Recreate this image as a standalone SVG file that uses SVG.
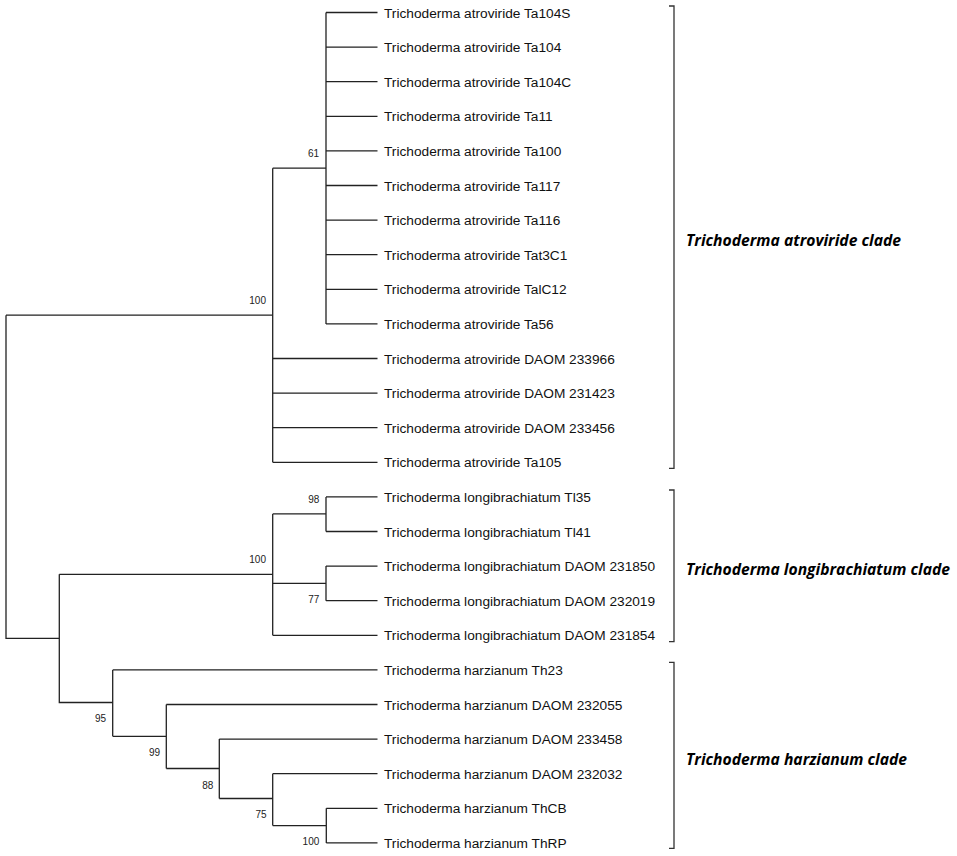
<svg xmlns="http://www.w3.org/2000/svg" width="957" height="856" viewBox="0 0 957 856">
<style>
.c{fill:none;stroke:#222;stroke-width:1.3}
.l{font-family:"Liberation Sans",Arial,sans-serif;font-size:13.7px;fill:#111}
.b{font-family:"Liberation Sans",Arial,sans-serif;font-size:10px;fill:#222;text-anchor:end}
.k{font-family:"Open Sans","DejaVu Sans",sans-serif;font-size:16px;font-weight:bold;font-style:italic;fill:#000}
.br{fill:none;stroke:#333;stroke-width:1.3}
</style>
<rect width="957" height="856" fill="#fff"/>
<g id="connectors">
<path class="c" d="M6,315.2V638.3H59.3M6,315.2H272.7M59.3,574.3V702.5H112.7M59.3,574.3H272.7"/>
<path class="c" d="M272.7,168.2V462.3M272.7,168.2H326M326,12.5V323.9"/>
<path class="c" d="M326,12.5H377.5M326,47.1H377.5M326,81.7H377.5M326,116.3H377.5M326,150.9H377.5M326,185.5H377.5M326,220.1H377.5M326,254.7H377.5M326,289.3H377.5M326,323.9H377.5"/>
<path class="c" d="M272.7,358.5H377.5M272.7,393.1H377.5M272.7,427.7H377.5M272.7,462.3H377.5"/>
<path class="c" d="M272.7,513.9V635.3M272.7,513.9H326M326,496.9V531.5M326,496.9H377.5M326,531.5H377.5M272.7,583.4H326M326,566.1V600.7M326,566.1H377.5M326,600.7H377.5M272.7,635.3H377.5"/>
<path class="c" d="M112.7,669.9V736.3M112.7,669.9H377.5M112.7,736.3H166.3M166.3,704.5V768.5M166.3,704.5H377.5M166.3,768.5H219.3M219.3,739.1V798.5M219.3,739.1H377.5M219.3,798.5H272.7M272.7,773.7V825.6M272.7,773.7H377.5M272.7,825.6H326.3M326.3,808.3V842.9M326.3,808.3H377.5M326.3,842.9H377.5"/>
</g>
<g id="bootstrap">
<text class="b" x="319" y="157">61</text>
<text class="b" x="266" y="303.6">100</text>
<text class="b" x="319.3" y="503">98</text>
<text class="b" x="266" y="563.3">100</text>
<text class="b" x="319.3" y="603">77</text>
<text class="b" x="106" y="721.6">95</text>
<text class="b" x="160" y="755.6">99</text>
<text class="b" x="213.3" y="789.3">88</text>
<text class="b" x="266.7" y="818.3">75</text>
<text class="b" x="319.3" y="845.3">100</text>
</g>
<g id="leaves">
<g id="n1"><text class="l" x="384" y="17.5">Trichoderma atroviride Ta104S</text></g>
<g id="n2"><text class="l" x="384" y="52.1">Trichoderma atroviride Ta104</text></g>
<g id="n3"><text class="l" x="384" y="86.7">Trichoderma atroviride Ta104C</text></g>
<g id="n4"><text class="l" x="384" y="121.3">Trichoderma atroviride Ta11</text></g>
<g id="n5"><text class="l" x="384" y="155.9">Trichoderma atroviride Ta100</text></g>
<g id="n6"><text class="l" x="384" y="190.5">Trichoderma atroviride Ta117</text></g>
<g id="n7"><text class="l" x="384" y="225.1">Trichoderma atroviride Ta116</text></g>
<g id="n8"><text class="l" x="384" y="259.7">Trichoderma atroviride Tat3C1</text></g>
<g id="n9"><text class="l" x="384" y="294.3">Trichoderma atroviride TalC12</text></g>
<g id="n10"><text class="l" x="384" y="328.9">Trichoderma atroviride Ta56</text></g>
<g id="n11"><text class="l" x="384" y="363.5">Trichoderma atroviride DAOM 233966</text></g>
<g id="n12"><text class="l" x="384" y="398.1">Trichoderma atroviride DAOM 231423</text></g>
<g id="n13"><text class="l" x="384" y="432.7">Trichoderma atroviride DAOM 233456</text></g>
<g id="n14"><text class="l" x="384" y="467.3">Trichoderma atroviride Ta105</text></g>
<g id="n15"><text class="l" x="384" y="501.9">Trichoderma longibrachiatum Tl35</text></g>
<g id="n16"><text class="l" x="384" y="536.5">Trichoderma longibrachiatum Tl41</text></g>
<g id="n17"><text class="l" x="384" y="571.1">Trichoderma longibrachiatum DAOM 231850</text></g>
<g id="n18"><text class="l" x="384" y="605.7">Trichoderma longibrachiatum DAOM 232019</text></g>
<g id="n19"><text class="l" x="384" y="640.3">Trichoderma longibrachiatum DAOM 231854</text></g>
<g id="n20"><text class="l" x="384" y="674.9">Trichoderma harzianum Th23</text></g>
<g id="n21"><text class="l" x="384" y="709.5">Trichoderma harzianum DAOM 232055</text></g>
<g id="n22"><text class="l" x="384" y="744.1">Trichoderma harzianum DAOM 233458</text></g>
<g id="n23"><text class="l" x="384" y="778.7">Trichoderma harzianum DAOM 232032</text></g>
<g id="n24"><text class="l" x="384" y="813.3">Trichoderma harzianum ThCB</text></g>
<g id="n25"><text class="l" x="384" y="847.9">Trichoderma harzianum ThRP</text></g>
</g>
<g id="clade-atroviride">
<path class="br" d="M669,6H674V468.3H669"/>
<text class="k" x="686" y="246" textLength="215" lengthAdjust="spacingAndGlyphs">Trichoderma atroviride clade</text>
</g>
<g id="clade-longibrachiatum">
<path class="br" d="M669,490H674V641.7H669"/>
<text class="k" x="686" y="575" textLength="264" lengthAdjust="spacingAndGlyphs">Trichoderma longibrachiatum clade</text>
</g>
<g id="clade-harzianum">
<path class="br" d="M669,662.3H674V848.3H669"/>
<text class="k" x="686" y="765" textLength="221" lengthAdjust="spacingAndGlyphs">Trichoderma harzianum clade</text>
</g>
</svg>
